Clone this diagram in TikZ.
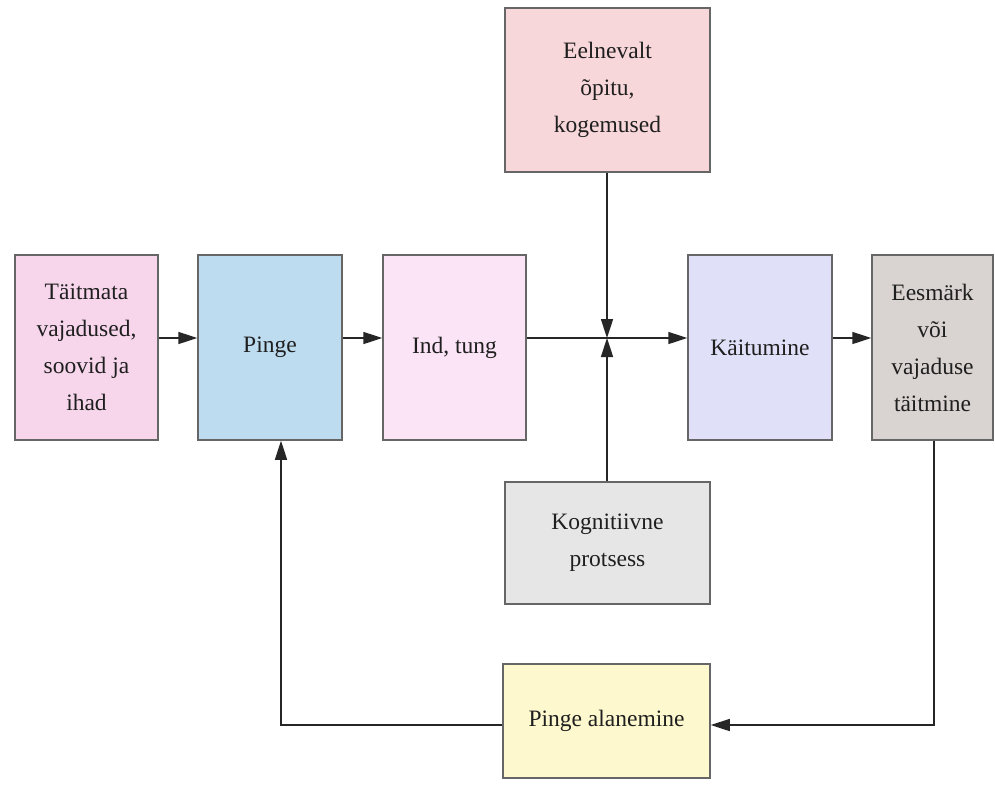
\documentclass[tikz,border=0pt]{standalone}
\usepackage{fontspec}
\setmainfont{Liberation Serif}
\usetikzlibrary{arrows.meta}
\definecolor{c1}{HTML}{F7D6EC}
\definecolor{c2}{HTML}{BEDCF0}
\definecolor{c3}{HTML}{FAE4F6}
\definecolor{c4}{HTML}{F8D7DA}
\definecolor{c5}{HTML}{E0E0F8}
\definecolor{c6}{HTML}{D9D3D1}
\definecolor{c7}{HTML}{E6E6E6}
\definecolor{c8}{HTML}{FDF8CE}
\begin{document}
\begin{tikzpicture}[x=1pt,y=-1pt,
 box/.style={draw=black!60, line width=1.5pt, inner sep=0pt, align=center,
   font=\fontsize{23.5}{37}\selectfont, text=black!88},
 conn/.style={line width=1.6pt, draw=black!85},
 arr/.style={conn, -{Triangle[length=19pt,width=12pt]}}]
\useasboundingbox (0,0) rectangle (995,787);
\fill[white] (0,0) rectangle (995,787);
\coordinate (j) at (607,338);
\coordinate (fb) at (934,725);
\coordinate (pb) at (281,0);
\node[box, fill=c1, minimum width=143pt, minimum height=185pt] (a) at (86.5,347.5) {Täitmata\\vajadused,\\soovid ja\\ihad};
\node[box, fill=c2, minimum width=144pt, minimum height=185pt] (b) at (270,347.5) {Pinge};
\node[box, fill=c3, minimum width=143pt, minimum height=185pt] (c) at (454.5,347.5) {Ind, tung};
\node[box, fill=c4, minimum width=205pt, minimum height=164pt] (d) at (607.5,90) {Eelnevalt\\õpitu,\\kogemused};
\node[box, fill=c5, minimum width=144pt, minimum height=185pt] (e) at (760,347.5) {Käitumine};
\node[box, fill=c6, minimum width=121pt, minimum height=185pt] (f) at (932.5,347.5) {Eesmärk\\või\\vajaduse\\täitmine};
\node[box, fill=c7, minimum width=205pt, minimum height=122pt] (g) at (607.5,543) {Kognitiivne\\protsess};
\node[box, fill=c8, minimum width=207pt, minimum height=114pt] (h) at (606.5,721) {Pinge alanemine};
\draw[arr] (a.east |- j) -- (b.west |- j);
\draw[arr] (b.east |- j) -- (c.west |- j);
\draw[arr] (c.east |- j) -- (e.west |- j);
\draw[arr] (d.south -| j) -- (j);
\draw[arr] (g.north -| j) -- (j);
\draw[arr] (e.east |- j) -- (f.west |- j);
\draw[arr] (f.south -| fb) |- (h.east |- fb);
\draw[arr] (h.west |- fb) -| (b.south -| pb);
\end{tikzpicture}
\end{document}
